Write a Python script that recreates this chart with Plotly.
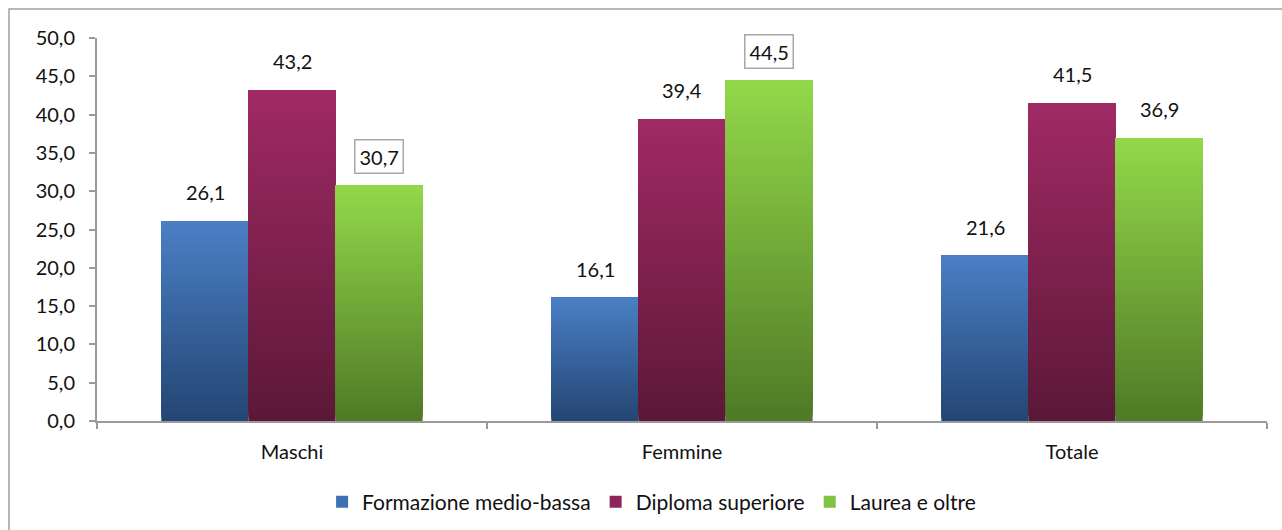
import plotly.graph_objects as go

categories = ["Maschi", "Femmine", "Totale"]
series_names = ["Formazione medio-bassa", "Diploma superiore", "Laurea e oltre"]
formazione = [26.1, 16.1, 21.6]
diploma = [43.2, 39.4, 41.5]
laurea = [30.7, 44.5, 36.9]
y_ticks = [0, 5, 10, 15, 20, 25, 30, 35, 40, 45, 50]
boxed_labels = [(2, 0), (2, 1)]  # (series index, category index)

series_values = [formazione, diploma, laurea]
top_colors = [(74, 127, 196), (160, 42, 100), (146, 216, 74)]
bottom_colors = [(36, 70, 116), (92, 24, 56), (80, 122, 38)]
legend_colors = ["#3f72b4", "#8e2459", "#80c340"]

FONT = "Lato, Carlito, sans-serif"
N = 60
fig = go.Figure()


def mix(c1, c2, t):
    return "rgb(%d,%d,%d)" % tuple(round(a + (b - a) * t) for a, b in zip(c1, c2))


for s, vals in enumerate(series_values):
    # gradient: each slice spans from its start up to the bar top, later slices on top
    for k in range(N):
        t = k / (N - 1)  # 0 bottom -> 1 top
        col = mix(bottom_colors[s], top_colors[s], t)
        fig.add_trace(go.Bar(
            x=categories,
            y=[v * (1 - k / N) for v in vals],
            base=[v * k / N for v in vals],
            offsetgroup=str(s),
            marker=dict(color=col, line=dict(width=0)),
            showlegend=False,
            hoverinfo="skip",
        ))
    fig.add_trace(go.Bar(
        x=categories, y=[0, 0, 0], offsetgroup=str(s),
        name=series_names[s], marker=dict(color=legend_colors[s], line=dict(width=0)),
        showlegend=True, hoverinfo="skip",
    ))

bar_px = 87
offsets = [-bar_px, 0, bar_px]
for s, vals in enumerate(series_values):
    for c, v in enumerate(vals):
        boxed = (s, c) in boxed_labels
        fig.add_annotation(
            x=categories[c], y=v, xref="x", yref="y",
            text=f"{v:.1f}".replace(".", ","),
            showarrow=False, xshift=offsets[s], yshift=29,
            yanchor="middle",
            font=dict(family=FONT, size=20, color="#111"),
            bordercolor="#a8a8a8" if boxed else "rgba(0,0,0,0)",
            borderwidth=1.5 if boxed else 0,
            borderpad=4 if boxed else 0,
            bgcolor="white" if boxed else "rgba(0,0,0,0)",
        )

# outer chart border (left and top visible)
L, R, T, B = 97, 1267, 38, 421
pw, ph = R - L, B - T
fig.add_shape(type="rect", xref="paper", yref="paper",
              x0=(9 - L) / pw, x1=(1300 - L) / pw,
              y0=(B - 560) / ph, y1=(B - 9) / ph,
              line=dict(color="#a0a0a0", width=1.5), layer="below")

fig.update_layout(
    width=1282, height=530,
    margin=dict(l=L, r=1282 - R, t=T, b=530 - B, autoexpand=False),
    paper_bgcolor="white", plot_bgcolor="white",
    barmode="group", bargap=0.33, bargroupgap=0,
    separators=",.",
    font=dict(family=FONT, size=20, color="#111"),
    showlegend=True,
    legend=dict(orientation="h", xref="paper", x=0.474, xanchor="center",
                yref="paper", y=(B - 502) / ph, yanchor="middle",
                font=dict(size=21), traceorder="normal", itemwidth=30),
    xaxis=dict(showline=True, linecolor="#9a9a9a", linewidth=2,
               ticks="outside", tickson="boundaries", ticklen=6,
               tickcolor="#9a9a9a", tickwidth=2, showgrid=False,
               ticklabelstandoff=12, tickfont=dict(size=20)),
    yaxis=dict(range=[0, 50], tickvals=y_ticks, tickformat=".1f",
               showline=True, linecolor="#9a9a9a", linewidth=2,
               ticks="outside", ticklen=6, tickcolor="#9a9a9a", tickwidth=2,
               showgrid=False, zeroline=False, ticklabelstandoff=10,
               tickfont=dict(size=20)),
)

fig.write_html("out.html", config={"displayModeBar": False},
               post_script="document.body.style.margin='0';")
